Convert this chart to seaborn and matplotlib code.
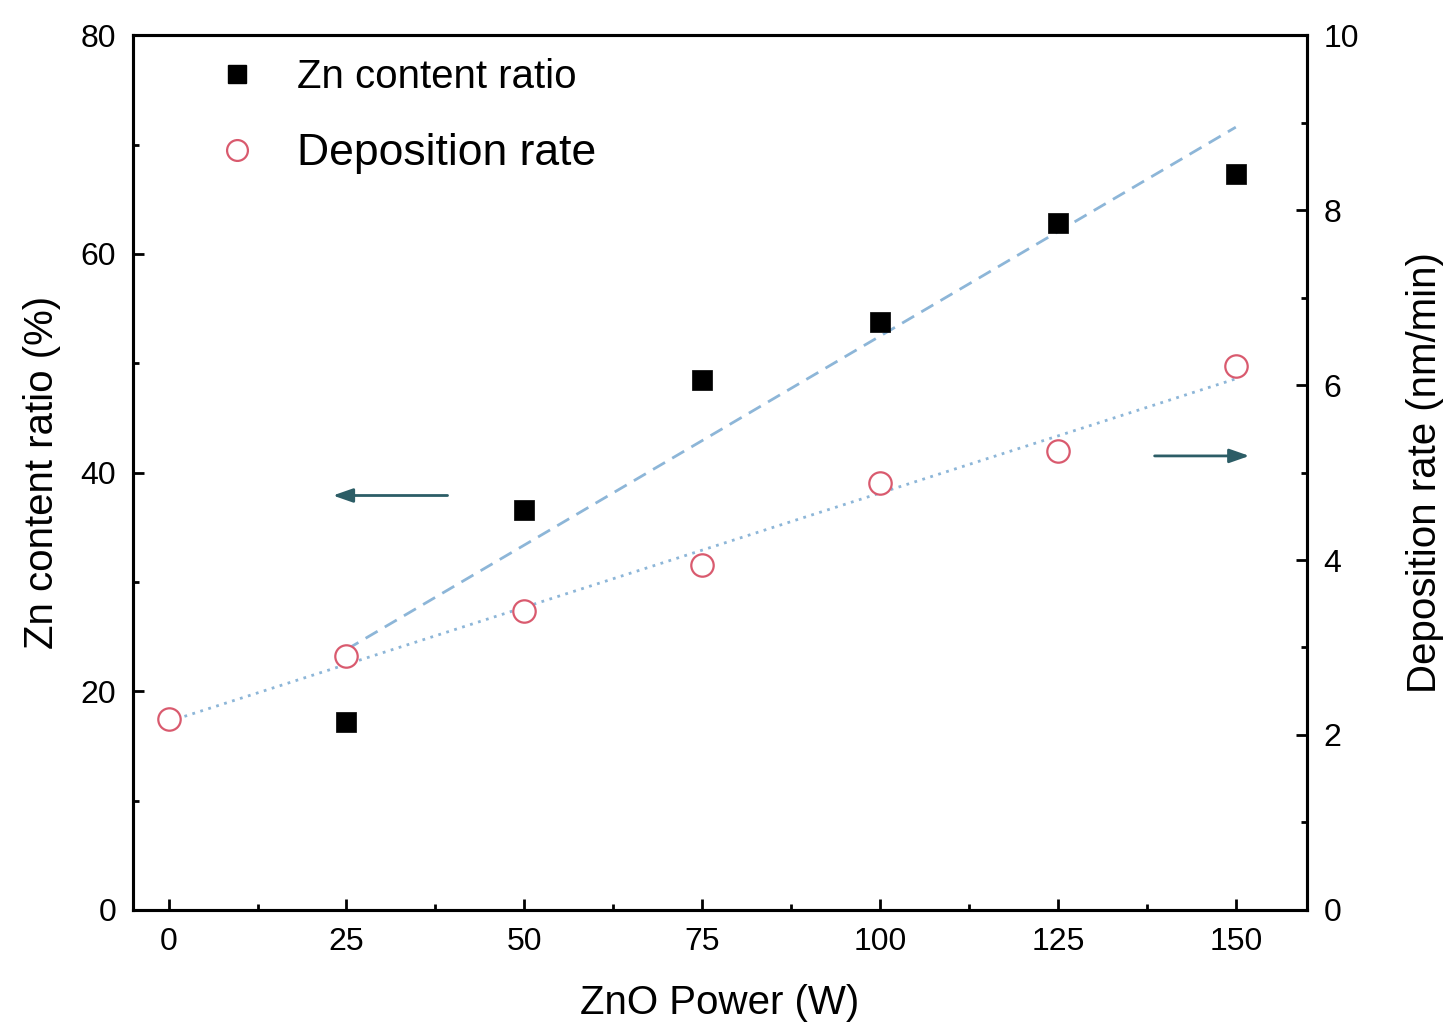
import numpy as np
import pandas as pd
import matplotlib
matplotlib.use("Agg")
import matplotlib.pyplot as plt
from matplotlib.ticker import MultipleLocator
from matplotlib.lines import Line2D
import seaborn as sns

# ---- data ----
power_zn = [25, 50, 75, 100, 125, 150]
zn_ratio = [17.2, 36.6, 48.5, 53.8, 62.8, 67.3]
power_dep = [0, 25, 50, 75, 100, 125, 150]
dep_rate = [2.18, 2.90, 3.42, 3.94, 4.88, 5.25, 6.22]

x_ticks = [0, 25, 50, 75, 100, 125, 150]
xlabel = "ZnO Power (W)"
ylabel_left = "Zn content ratio (%)"
ylabel_right = "Deposition rate (nm/min)"
legend_labels = ["Zn content ratio", "Deposition rate"]

sns.set_theme(style="white")
plt.rcParams['font.family'] = ['Liberation Sans', 'DejaVu Sans']
plt.rcParams['text.color'] = 'black'
plt.rcParams['axes.labelcolor'] = 'black'

df_zn = pd.DataFrame({"power": power_zn, "zn": zn_ratio})
df_dep = pd.DataFrame({"power": power_dep, "dep": dep_rate})

fig = plt.figure(figsize=(14.52, 10.34), dpi=100)
ax = fig.add_axes([0.0916, 0.12, 0.8085, 0.846])
ax2 = ax.twinx()

line_col = "#8db6d8"
circ_col = "#d95a6e"

# fit lines
sns.regplot(data=df_zn, x="power", y="zn", ax=ax, scatter=False, ci=None,
            line_kws=dict(color=line_col, lw=2.0, ls=(0, (5, 3))), truncate=True)
sns.regplot(data=df_dep, x="power", y="dep", ax=ax2, scatter=False, ci=None,
            line_kws=dict(color=line_col, lw=2.0, ls=(0, (1, 2))), truncate=True)

# points
sns.scatterplot(data=df_zn, x="power", y="zn", ax=ax, marker="s", s=190,
                color="black", edgecolor="black", linewidth=0.5, zorder=5, legend=False)
sns.scatterplot(data=df_dep, x="power", y="dep", ax=ax2, marker="o", s=260,
                facecolor="white", edgecolor=circ_col, linewidth=1.6, zorder=5, legend=False)

ax.set_xlim(-5, 160)
ax.set_ylim(0, 80)
ax2.set_ylim(0, 10)

ax.set_xticks(x_ticks)
ax.xaxis.set_minor_locator(MultipleLocator(12.5))
ax.yaxis.set_major_locator(MultipleLocator(20))
ax.yaxis.set_minor_locator(MultipleLocator(10))
ax2.yaxis.set_major_locator(MultipleLocator(2))
ax2.yaxis.set_minor_locator(MultipleLocator(1))

for a in (ax, ax2):
    for s in a.spines.values():
        s.set_linewidth(2.2)
        s.set_color("black")

ax.tick_params(axis="x", which="both", direction="in", top=False, bottom=True,
               labelsize=23, pad=12, width=2, colors="black")
ax.tick_params(axis="x", which="major", length=8)
ax.tick_params(axis="x", which="minor", length=4.5)
ax.tick_params(axis="y", which="both", direction="in", left=True, right=False,
               labelsize=23, pad=12, width=2, colors="black")
ax.tick_params(axis="y", which="major", length=8)
ax.tick_params(axis="y", which="minor", length=4.5)
ax2.tick_params(axis="y", which="both", direction="in", right=True, left=False,
                labelsize=23, pad=12, width=2, colors="black")
ax2.tick_params(axis="y", which="major", length=8)
ax2.tick_params(axis="y", which="minor", length=4.5)

ax.set_xlabel(xlabel, fontsize=29, labelpad=20, color="black")
ax.set_ylabel(ylabel_left, fontsize=29, labelpad=14, color="black")
ax2.set_ylabel(ylabel_right, fontsize=29, labelpad=34, color="black")

# arrows
arrow_col = "#2c5d66"
ax.annotate("", xy=(22.7, 37.9), xytext=(39.6, 37.9),
            arrowprops=dict(arrowstyle="-|>,head_length=1.0,head_width=0.35",
                            color=arrow_col, lw=2))
ax2.annotate("", xy=(152.3, 5.19), xytext=(138.2, 5.19),
             arrowprops=dict(arrowstyle="-|>,head_length=1.0,head_width=0.35",
                             color=arrow_col, lw=2))

# legend
handles = [
    Line2D([], [], marker="s", ls="none", color="black", markersize=13),
    Line2D([], [], marker="o", ls="none", markerfacecolor="white",
           markeredgecolor=circ_col, markeredgewidth=1.6, markersize=15),
]
leg = ax.legend(handles, legend_labels, loc="upper left", bbox_to_anchor=(0.037, 1.015),
                frameon=False, fontsize=29, labelspacing=0.9, handletextpad=0.9,
                handlelength=1.2)
leg.get_texts()[1].set_fontsize(32)
for t in leg.get_texts():
    t.set_color("black")

fig.savefig("out.png", dpi=100)
